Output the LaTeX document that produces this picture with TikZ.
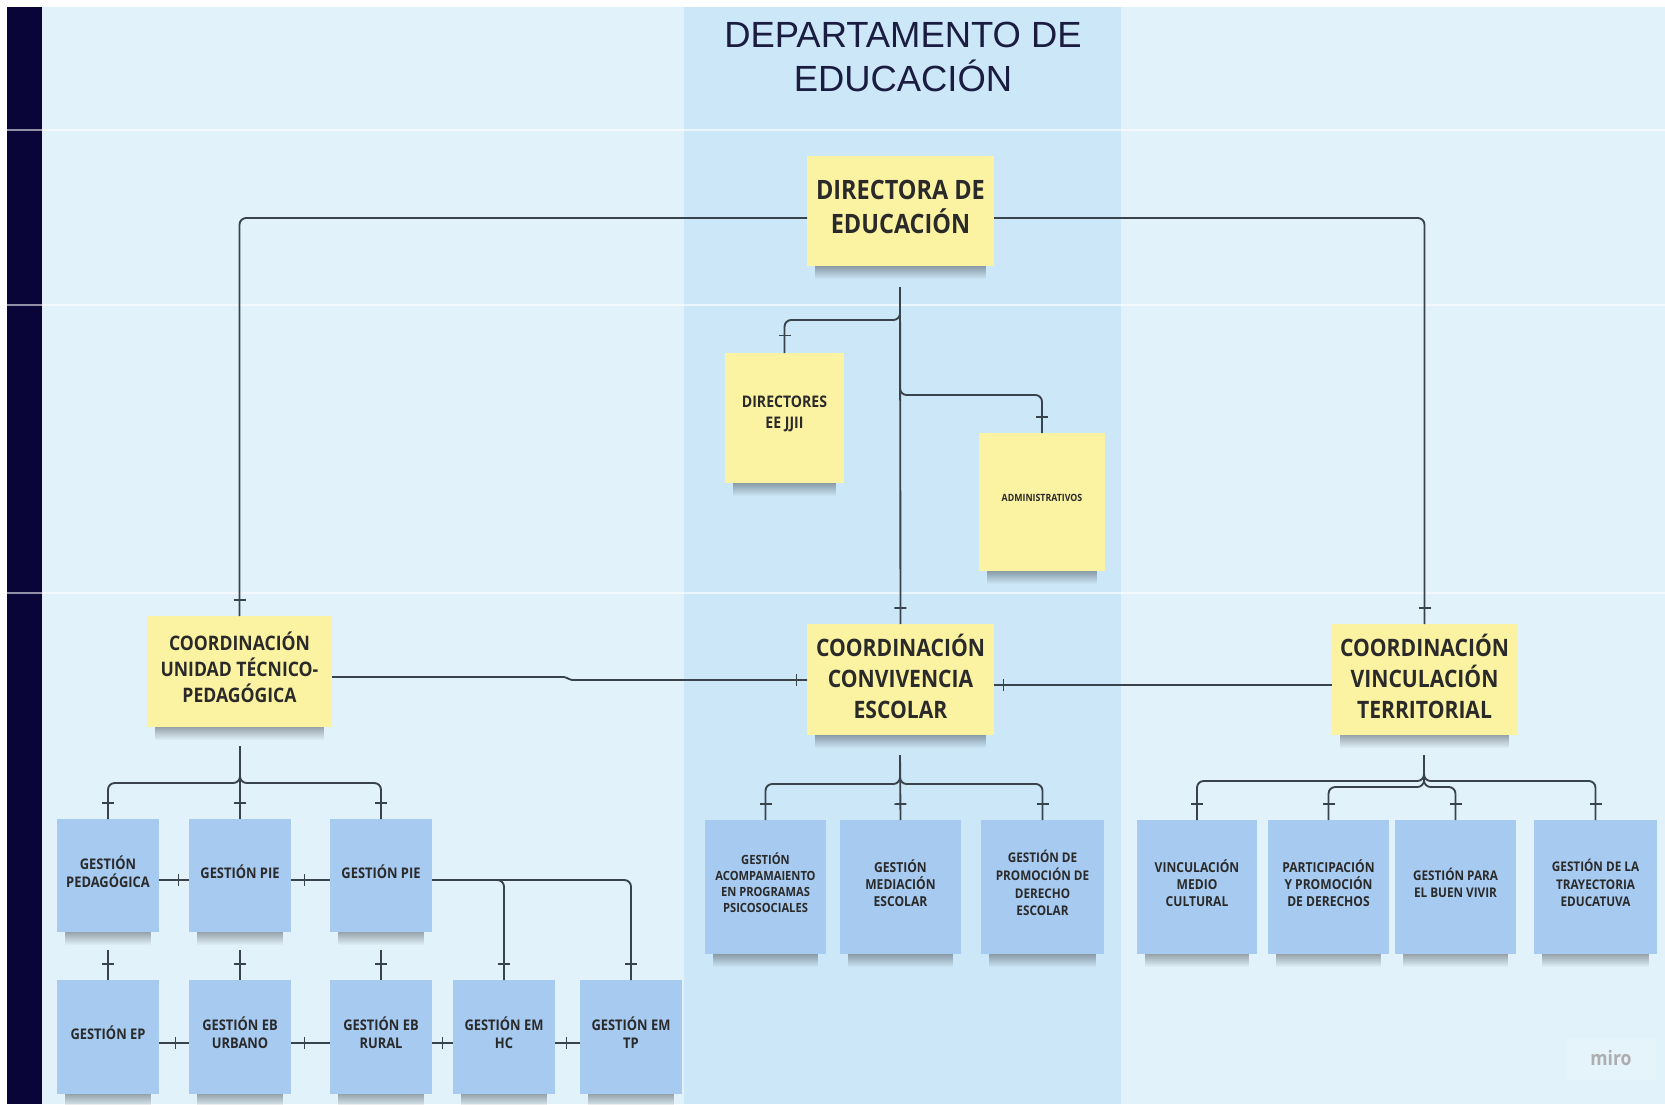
\documentclass[tikz,border=0pt]{standalone}
\usepackage{fontspec}
\setmainfont{Open Sans}
\newfontfamily\sk[FakeStretch=0.88]{Open Sans}
\newfontfamily\titlefont{Liberation Sans}
\usetikzlibrary{fadings,decorations.markings}
\definecolor{bgc}{HTML}{E1F2FB}
\definecolor{midc}{HTML}{CCE7F8}
\definecolor{barc}{HTML}{0A0538}
\definecolor{yel}{HTML}{FCF3A2}
\definecolor{blu}{HTML}{A7CAF0}
\definecolor{linec}{HTML}{39434C}
\definecolor{txtc}{HTML}{2A2A2A}
\definecolor{titc}{HTML}{1A1C40}
\tikzset{
 note/.style={inner sep=0pt, outer sep=0pt},
 notetext/.style={inner sep=0pt, align=center, text=txtc, yshift=3pt},
 conn/.style={draw=linec, line width=1.4pt, rounded corners=5pt},
 tk/.style={postaction={decorate, decoration={markings, mark=at position -#1 with {\draw[draw=linec, line width=1.2pt, rounded corners=0pt] (0pt,-4.5pt) -- (0pt,4.5pt);}}}},
 tk/.default=12pt
}
\newcommand\stickynote[8]{%
 \fill[black, opacity=0.40, path fading=south] ({#2+8},{#5-3}) rectangle ({#4-8},{#5+13});
 \node[note, fill=#6, minimum width={(#4-#2)*0.75pt}, minimum height={(#5-#3)*0.75pt},
   label={[notetext, font={\sk\bfseries#7\selectfont}]center:{#8}}] (#1) at ({(#2+#4)/2},{(#3+#5)/2}) {};
}
\begin{document}
\begin{tikzpicture}[x=0.75pt,y=-0.75pt]
\useasboundingbox (0,0) rectangle (1665,1104);
\fill[white] (0,0) rectangle (1665,1104);
\fill[bgc] (42,7) rectangle (1665,1104);
\fill[midc] (684,7) rectangle (1121,1104);
\fill[barc] (7,7) rectangle (42,1104);
\foreach \yy in {130,305,593}{
  \draw[white, opacity=0.6, line width=1.2pt] (42,\yy) -- (1665,\yy);
  \draw[barc!45!white, line width=1.2pt] (7,\yy) -- (42,\yy);
}
% title
\node[font={\titlefont\fontsize{27.3}{33}\selectfont}, text=titc, align=center] (title) at (903,57) {DEPARTAMENTO DE\\EDUCACIÓN};
% yellow notes
\stickynote{dir}{807}{156}{994}{266}{yel}{\fontsize{20}{25}}{DIRECTORA DE\\EDUCACIÓN}
\stickynote{dirs}{725}{353}{844}{483}{yel}{\fontsize{12}{15.5}}{DIRECTORES\\EE JJII}
\stickynote{adm}{979}{433}{1105}{571}{yel}{\fontsize{7.5}{9}}{ADMINISTRATIVOS}
\stickynote{utp}{147}{616}{332}{727}{yel}{\fontsize{15}{19.5}}{COORDINACIÓN\\UNIDAD TÉCNICO-\\PEDAGÓGICA}
\stickynote{ce}{807}{624}{994}{735}{yel}{\fontsize{18}{23}}{\\[-5pt]COORDINACIÓN\\CONVIVENCIA\\ESCOLAR}
\stickynote{vt}{1332}{624}{1517}{735}{yel}{\fontsize{18}{23}}{\\[-5pt]COORDINACIÓN\\VINCULACIÓN\\TERRITORIAL}
% blue notes UTP
\stickynote{g1}{57}{819}{159}{932}{blu}{\fontsize{11}{13.5}}{GESTIÓN\\PEDAGÓGICA}
\stickynote{g2}{189}{819}{291}{932}{blu}{\fontsize{11}{13.5}}{GESTIÓN PIE}
\stickynote{g3}{330}{819}{432}{932}{blu}{\fontsize{11}{13.5}}{GESTIÓN PIE}
\stickynote{g4}{57}{980}{159}{1094}{blu}{\fontsize{11}{13.5}}{GESTIÓN EP}
\stickynote{g5}{189}{980}{291}{1094}{blu}{\fontsize{11}{13.5}}{GESTIÓN EB\\URBANO}
\stickynote{g6}{330}{980}{432}{1094}{blu}{\fontsize{11}{13.5}}{GESTIÓN EB\\RURAL}
\stickynote{hc}{453}{980}{555}{1094}{blu}{\fontsize{11}{13.5}}{GESTIÓN EM\\HC}
\stickynote{tp}{580}{980}{682}{1094}{blu}{\fontsize{11}{13.5}}{GESTIÓN EM\\TP}
% blue notes CE
\stickynote{c1}{705}{820}{826}{954}{blu}{\fontsize{9.5}{12}}{GESTIÓN\\ACOMPAMAIENTO\\EN PROGRAMAS\\PSICOSOCIALES}
\stickynote{c2}{840}{820}{961}{954}{blu}{\fontsize{10.3}{13}}{GESTIÓN\\MEDIACIÓN\\ESCOLAR}
\stickynote{c3}{981}{820}{1104}{954}{blu}{\fontsize{10}{13.3}}{GESTIÓN DE\\PROMOCIÓN DE\\DERECHO\\ESCOLAR}
% blue notes VT
\stickynote{t1}{1137}{820}{1257}{954}{blu}{\fontsize{10.3}{13}}{VINCULACIÓN\\MEDIO\\CULTURAL}
\stickynote{t2}{1268}{820}{1389}{954}{blu}{\fontsize{10.3}{13}}{PARTICIPACIÓN\\Y PROMOCIÓN\\DE DERECHOS}
\stickynote{t3}{1395}{820}{1516}{954}{blu}{\fontsize{10}{13}}{GESTIÓN PARA\\EL BUEN VIVIR}
\stickynote{t4}{1534}{820}{1657}{954}{blu}{\fontsize{10}{13}}{GESTIÓN DE LA\\TRAYECTORIA\\EDUCATUVA}
% connectors from director
\draw[conn, tk] (dir.west |- 0,218) -| (utp.north);
\draw[conn, tk] (dir.east |- 0,218) -| (vt.north);
\coordinate (d0) at (900,287);
\draw[conn, tk] (d0) -- (ce.north);
\draw[conn, tk=13pt] (d0) -- (900,320) -| (dirs.north);
\draw[conn, tk] (d0) -- (900,395) -| (adm.north);
% between coordinations
\draw[conn, rounded corners=1.5pt, tk=8pt] (utp.east |- 0,677) -- (566,677) -- (570,680) -- (ce.west |- 0,680);
\draw[conn, tk=7pt] (vt.west |- 0,685) -- (ce.east |- 0,685);
% UTP children
\coordinate (u0) at (240,746);
\draw[conn, tk] (u0) -- (240,783) -| (g1.north);
\draw[conn, tk] (u0) -- (g2.north);
\draw[conn, tk] (u0) -- (240,783) -| (g3.north);
\draw[conn, tk=8pt] (g1.east |- 0,880) -- (g2.west |- 0,880);
\draw[conn, tk=19pt] (g2.east |- 0,880) -- (g3.west |- 0,880);
\draw[conn, tk] (g3.east |- 0,880) -| (hc.north);
\draw[conn, tk] (g3.east |- 0,880) -| (tp.north);
\draw[conn, tk] (g1.south |- 0,950) -- (g4.north);
\draw[conn, tk] (g2.south |- 0,950) -- (g5.north);
\draw[conn, tk] (g3.south |- 0,950) -- (g6.north);
\draw[conn, tk=10pt] (g4.east |- 0,1043) -- (g5.west |- 0,1043);
\draw[conn, tk=19pt] (g5.east |- 0,1043) -- (g6.west |- 0,1043);
\draw[conn, tk=8pt] (g6.east |- 0,1043) -- (hc.west |- 0,1043);
\draw[conn, tk=10pt] (hc.east |- 0,1043) -- (tp.west |- 0,1043);
% CE children
\coordinate (c0) at (900,755);
\draw[conn, tk] (c0) -- (900,784) -| (c1.north);
\draw[conn, tk] (c0) -- (c2.north);
\draw[conn, tk] (c0) -- (900,784) -| (c3.north);
% VT children
\coordinate (v0) at (1424,755);
\draw[conn, tk] (v0) -- (1424,781) -| (t1.north);
\draw[conn, tk] (v0) -- (1424,787) -| (t2.north);
\draw[conn, tk] (v0) -- (1424,787) -| (t3.north);
\draw[conn, tk] (v0) -- (1424,781) -| (t4.north);
% watermark
\fill[white, opacity=0.15] (1566,1038) rectangle (1656,1080);
\node[font={\sk\bfseries\fontsize{15}{15}\selectfont}, text=black!32] (miro) at (1611,1058) {miro};
\end{tikzpicture}
\end{document}
